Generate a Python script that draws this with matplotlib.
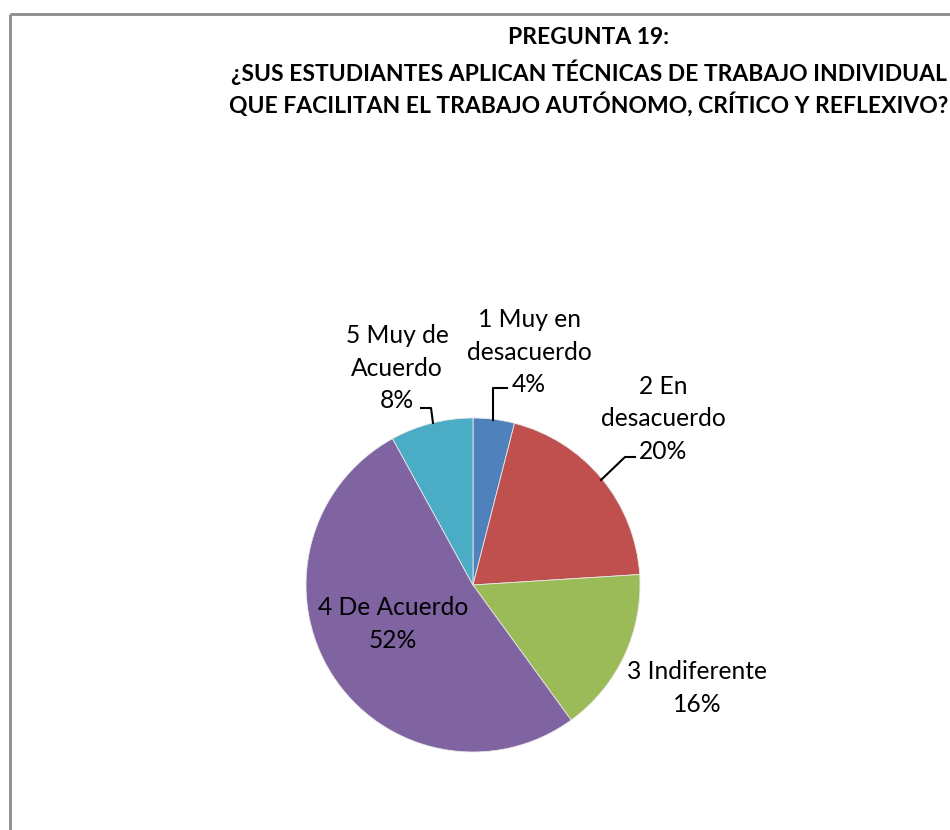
import matplotlib
matplotlib.use("Agg")
import matplotlib.pyplot as plt

categories = ["1 Muy en\ndesacuerdo", "2 En\ndesacuerdo", "3 Indiferente", "4 De Acuerdo", "5 Muy de\nAcuerdo"]
values = [4, 20, 16, 52, 8]
colors = ["#4F81BD", "#C0504D", "#9BBB59", "#8064A2", "#4BACC6"]
title_lines = ["PREGUNTA 19:",
               "¿SUS ESTUDIANTES APLICAN TÉCNICAS DE TRABAJO INDIVIDUAL",
               "QUE FACILITAN EL TRABAJO AUTÓNOMO, CRÍTICO Y REFLEXIVO?"]

W, H = 950, 830
fig = plt.figure(figsize=(W / 100, H / 100), dpi=100)
ax = fig.add_axes([0, 0, 1, 1])
ax.set_xlim(0, W)
ax.set_ylim(0, H)
ax.axis("off")

def Y(y):
    return H - y

FONT = "Lato"
renderer = fig.canvas.get_renderer()

def fit_size(s, target_px, weight="normal", base=20):
    t = fig.text(0, 0, s, fontsize=base, family=FONT, weight=weight)
    w = t.get_window_extent(renderer).width
    t.remove()
    return base * target_px / w

# border frame
ax.plot([10, 10], [Y(830), Y(14)], color="#8C8C8C", lw=2, solid_capstyle="butt")
ax.plot([10, 950], [Y(14), Y(14)], color="#8C8C8C", lw=2, solid_capstyle="butt")

# title
ts = fit_size(title_lines[1], 713, weight="bold")
for line, y in zip(title_lines, [38, 72, 104]):
    ax.text(589, Y(y), line, ha="center", va="center", fontsize=ts, family=FONT, weight="bold")

# pie
cx, cy, r = 473, 585, 167
ax.pie(values, colors=colors, startangle=90, counterclock=False,
       center=(cx, Y(cy)), radius=r, frame=False,
       wedgeprops=dict(linewidth=0.6, edgecolor="#E8E8E8"))
ax.set_xlim(0, W)
ax.set_ylim(0, H)
ax.set_aspect("auto")
ax.axis("off")

ls = fit_size("desacuerdo", 125)
pct = [f"{v}%" for v in values]
label_pos = [(529, 352), (663, 419), (697, 688), (393, 624), (397, 368)]
for cat, p, (x, y) in zip(categories, pct, label_pos):
    ax.text(x, Y(y), cat + "\n" + p, ha="center", va="center", fontsize=ls,
            family=FONT, linespacing=1.5, color="black")

# leader lines
ax.plot([493, 493, 507], [Y(420), Y(388), Y(388)], color="black", lw=1.5)
ax.plot([601, 625, 635], [Y(480), Y(457), Y(457)], color="black", lw=1.5)
ax.plot([421, 431, 433], [Y(408), Y(408), Y(423)], color="black", lw=1.5)

fig.savefig("out.png", dpi=100, facecolor="white")
